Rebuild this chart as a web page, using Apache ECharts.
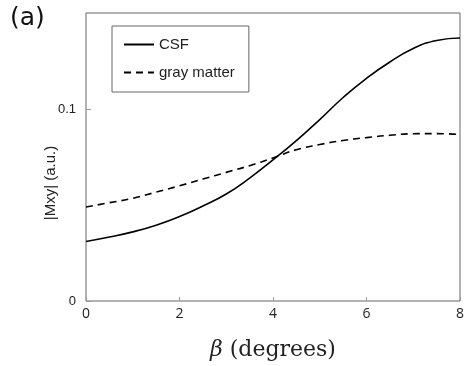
<!DOCTYPE html>
<html>
<head>
<meta charset="utf-8">
<script src="https://cdn.jsdelivr.net/npm/echarts@6/dist/echarts.min.js"></script>
<style>
	html, body { margin: 0; padding: 0; background: #fff; }
	#chart { width: 467px; height: 366px; }
</style>
</head>
<body>
<div id="chart"></div>
<script>
//Data
let beta_values = [0, 0.5, 1, 1.5, 2, 2.5, 3, 3.5, 4, 4.5, 5, 5.5, 6, 6.5, 7, 7.5, 8];
let csf_values = [0.031, 0.0333, 0.036, 0.0395, 0.044, 0.0495, 0.0557, 0.064, 0.0735, 0.0835, 0.0945, 0.106, 0.116, 0.1245, 0.1315, 0.1357, 0.137];
let gray_matter_values = [0.049, 0.0512, 0.0535, 0.0567, 0.060, 0.0635, 0.067, 0.0705, 0.0745, 0.0788, 0.0815, 0.0836, 0.0851, 0.0863, 0.0871, 0.0872, 0.0867];
let x_ticks = [0, 2, 4, 6, 8];
let y_ticks = [0, 0.1];

//Declare local instance variables
let chart = echarts.init(document.getElementById("chart"), null, { renderer: "canvas" });
let border_colour = "#666";

function toPairs (xs, ys) {
	let pairs = [];
	for (let i = 0; i < xs.length; i++)
		pairs.push([xs[i], ys[i]]);
	return pairs;
}

chart.setOption({
	animation: false,
	grid: {
		left: 86, right: 3, top: 13, bottom: 56,
		show: true,
		borderColor: border_colour,
		borderWidth: 1
	},
	legend: {
		orient: "vertical",
		left: 112,
		top: 26,
		padding: [11, 14, 12, 11],
		itemGap: 13,
		itemWidth: 30,
		itemHeight: 14,
		borderColor: border_colour,
		borderWidth: 1,
		itemStyle: { opacity: 0 },
		textStyle: { fontFamily: "Liberation Sans", fontSize: 15, color: "#222" },
		data: [
			{ name: "CSF" },
			{ name: "gray matter", lineStyle: { type: [7, 5] } }
		]
	},
	xAxis: {
		type: "value",
		min: 0,
		max: 8,
		interval: 2,
		axisLine: { show: false },
		splitLine: { show: false },
		axisTick: { show: true, inside: true, length: 4, lineStyle: { color: "#999" } },
		axisLabel: {
			fontFamily: "Open Sans",
			fontSize: 14,
			color: "#222",
			margin: 6,
			formatter: (value) => (x_ticks.indexOf(value) !== -1) ? String(value) : ""
		},
		name: "{b|β} (degrees)",
		nameLocation: "middle",
		nameGap: 38,
		nameTextStyle: {
			fontFamily: "DejaVu Serif",
			fontSize: 22,
			color: "#222",
			rich: {
				b: { fontFamily: "DejaVu Serif", fontStyle: "italic", fontSize: 22, color: "#222" }
			}
		}
	},
	yAxis: {
		type: "value",
		min: 0,
		max: 0.15,
		interval: 0.05,
		axisLine: { show: false },
		splitLine: { show: false },
		axisTick: {
			show: true, inside: true, length: 5,
			lineStyle: { color: "#999" },
			customValues: y_ticks
		},
		axisLabel: {
			fontFamily: "Liberation Sans",
			fontSize: 13,
			color: "#222",
			margin: 10,
			customValues: y_ticks,
			formatter: (value) => (y_ticks.indexOf(value) !== -1) ? String(value) : ""
		}
	},
	graphic: [
		{
			type: "text",
			left: 10,
			top: 6,
			style: { text: "(a)", fontFamily: "DejaVu Sans", fontSize: 25, fill: "#111" }
		},
		{
			type: "text",
			x: 51,
			y: 183,
			rotation: Math.PI / 2,
			style: {
				text: "|Mxy| (a.u.)",
				fontFamily: "Liberation Sans",
				fontSize: 15,
				fill: "#222",
				align: "center",
				verticalAlign: "middle"
			}
		}
	],
	series: [
		{
			name: "CSF",
			type: "line",
			smooth: true,
			symbol: "none",
			data: toPairs(beta_values, csf_values),
			lineStyle: { color: "#000", width: 1.6, type: "solid" },
			itemStyle: { color: "#000" }
		},
		{
			name: "gray matter",
			type: "line",
			smooth: true,
			symbol: "none",
			data: toPairs(beta_values, gray_matter_values),
			lineStyle: { color: "#000", width: 1.6, type: [7, 5] },
			itemStyle: { color: "#000" }
		}
	]
});
</script>
</body>
</html>
